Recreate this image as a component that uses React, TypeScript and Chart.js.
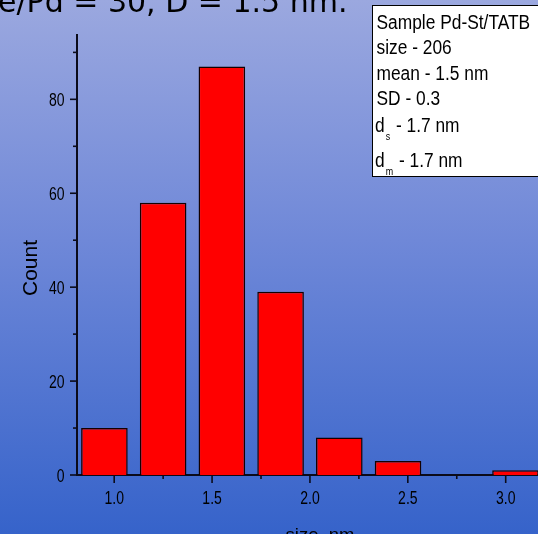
import React, { useEffect, useRef } from "react";
import { Chart, registerables } from "chart.js";

Chart.register(...registerables);

// ---- data ----
const binCenters = [0.95, 1.25, 1.55, 1.85, 2.15, 2.45, 2.75, 3.05];
const counts = [10, 58, 87, 39, 8, 3, 0, 1];
const xMajorLabels = ["1.0", "1.5", "2.0", "2.5", "3.0"];
const yMajorLabels = ["0", "20", "40", "60", "80"];
const infoLines = ["Sample Pd-St/TATB", "size - 206", "mean - 1.5 nm", "SD - 0.3"];
const infoSubLines = [
  { main: "d", sub: "s", rest: " - 1.7 nm" },
  { main: "d", sub: "m", rest: " - 1.7 nm" },
];
const topText = "e/Pd = 30, D = 1.5 nm.";
const xTitle = "size, nm";
const yTitle = "Count";

const W = 538;
const H = 534;
const SANS = "'Liberation Sans', Arial, sans-serif";

const near = (v: number, step: number) => Math.abs(v / step - Math.round(v / step)) < 1e-6;

function narrowText(ctx: any, s: string, x: number, y: number, sx: number, align: string) {
  ctx.save();
  ctx.translate(x, y);
  ctx.scale(sx, 1);
  ctx.textAlign = align;
  ctx.fillText(s, 0, 0);
  ctx.restore();
}

const decorPlugin = {
  id: "decor",
  afterDraw(chart: any) {
    const { ctx, chartArea, scales } = chart;
    const x = scales.x;
    const y = scales.y;
    ctx.save();
    ctx.strokeStyle = "#0b0b1a";
    ctx.lineWidth = 1.6;
    ctx.fillStyle = "#000";
    ctx.textBaseline = "alphabetic";
    ctx.font = `17.5px ${SANS}`;
    // x ticks + labels
    for (const t of x.ticks) {
      const px = x.getPixelForValue(t.value);
      const len = near(t.value, 0.5) ? 8 : 4;
      ctx.beginPath();
      ctx.moveTo(px, chartArea.bottom);
      ctx.lineTo(px, chartArea.bottom + len);
      ctx.stroke();
      if (t.label) narrowText(ctx, String(t.label), px, 504, 0.8, "center");
    }
    // y ticks + labels
    for (const t of y.ticks) {
      const py = y.getPixelForValue(t.value);
      const len = near(t.value, 20) ? 7 : 4;
      ctx.beginPath();
      ctx.moveTo(chartArea.left - len, py);
      ctx.lineTo(chartArea.left, py);
      ctx.stroke();
      if (t.label) narrowText(ctx, String(t.label), 64.5, py + 6.5, 0.8, "right");
    }
    // axis titles
    ctx.font = `18.5px ${SANS}`;
    ctx.textAlign = "center";
    ctx.fillText(xTitle, 320, 541);
    ctx.save();
    ctx.translate(37, 268);
    ctx.rotate(-Math.PI / 2);
    ctx.font = `21px ${SANS}`;
    ctx.fillText(yTitle, 0, 0);
    ctx.restore();

    // top text
    ctx.font = `30px 'DejaVu Sans', Verdana, sans-serif`;
    ctx.textAlign = "left";
    ctx.fillText(topText, -2, 12);

    // info box
    const bx = 372.5, by = 5.5, bw = 200, bh = 171;
    ctx.fillStyle = "#fff";
    ctx.fillRect(bx, by, bw, bh);
    ctx.strokeStyle = "#000";
    ctx.lineWidth = 1;
    ctx.strokeRect(bx, by, bw, bh);
    ctx.fillStyle = "#000";
    const SX = 0.89;
    const FS = 19.5;
    ctx.font = `${FS}px ${SANS}`;
    const baselines = [28.5, 53.5, 80, 105];
    infoLines.forEach((s, i) => narrowText(ctx, s, 376.5, baselines[i], SX, "left"));
    const subBaselines = [131.5, 166.5];
    infoSubLines.forEach((l, i) => {
      const x0 = 375;
      ctx.font = `${FS}px ${SANS}`;
      narrowText(ctx, l.main, x0, subBaselines[i], SX, "left");
      const w1 = ctx.measureText(l.main).width * SX;
      ctx.font = `10px ${SANS}`;
      narrowText(ctx, l.sub, x0 + w1 + 1, subBaselines[i] + 8.5, SX, "left");
      const w2 = ctx.measureText(l.sub).width * SX;
      ctx.font = `${FS}px ${SANS}`;
      narrowText(ctx, l.rest, x0 + w1 + w2 + 2, subBaselines[i], SX, "left");
    });
    ctx.restore();
  },
};

export default function App() {
  const ref = useRef<HTMLCanvasElement | null>(null);
  useEffect(() => {
    if (!ref.current) return;
    const chart = new Chart(ref.current, {
      type: "bar",
      data: {
        datasets: [
          {
            data: binCenters.map((c, i) => ({ x: c, y: counts[i] })),
            backgroundColor: "#ff0000",
            borderColor: "#140000",
            borderWidth: 1.5,
            barPercentage: 0.952,
            categoryPercentage: 1,
          },
        ],
      },
      options: {
        responsive: false,
        animation: false,
        devicePixelRatio: 1,
        layout: { padding: { top: 35, left: 0, right: 0, bottom: 0 } },
        plugins: { legend: { display: false }, tooltip: { enabled: false } },
        scales: {
          x: {
            type: "linear",
            offset: false,
            min: 0.81,
            max: 3.165,
            grid: { display: false, drawTicks: true, tickLength: 8 },
            border: { display: true, color: "#0b0b1a", width: 2 },
            ticks: {
              stepSize: 0.25,
              includeBounds: false,
              autoSkip: false,
              maxRotation: 0,
              padding: 4,
              color: "rgba(0,0,0,0)",
              font: { family: SANS, size: 16 },
              callback: (v: any) => {
                const n = Number(v);
                if (!near(n, 0.5)) return "";
                const lbl = n.toFixed(1);
                return xMajorLabels.includes(lbl) ? lbl : "";
              },
            },
            afterFit: (s: any) => {
              s.height = H - 475;
            },
          },
          y: {
            type: "linear",
            min: 0,
            max: 93.7,
            grid: { display: false, drawTicks: true, tickLength: 8 },
            border: { display: true, color: "#0b0b1a", width: 2 },
            ticks: {
              stepSize: 10,
              includeBounds: false,
              autoSkip: false,
              padding: 4,
              color: "rgba(0,0,0,0)",
              font: { family: SANS, size: 16 },
              callback: (v: any) => {
                const n = Number(v);
                const lbl = String(Math.round(n));
                return near(n, 20) && yMajorLabels.includes(lbl) ? lbl : "";
              },
            },
            afterFit: (s: any) => {
              s.width = 77;
            },
          },
        },
      },
      plugins: [decorPlugin],
    } as any);
    return () => chart.destroy();
  }, []);

  return (
    <div
      style={{
        position: "fixed",
        left: 0,
        top: 0,
        width: W,
        height: H,
        overflow: "hidden",
        background: "linear-gradient(to bottom, #9ba8df 0%, #6f88d8 45%, #3663ca 100%)",
      }}
    >
      <canvas ref={ref} width={W} height={H} style={{ position: "absolute", left: 0, top: 0 }} />
    </div>
  );
}
